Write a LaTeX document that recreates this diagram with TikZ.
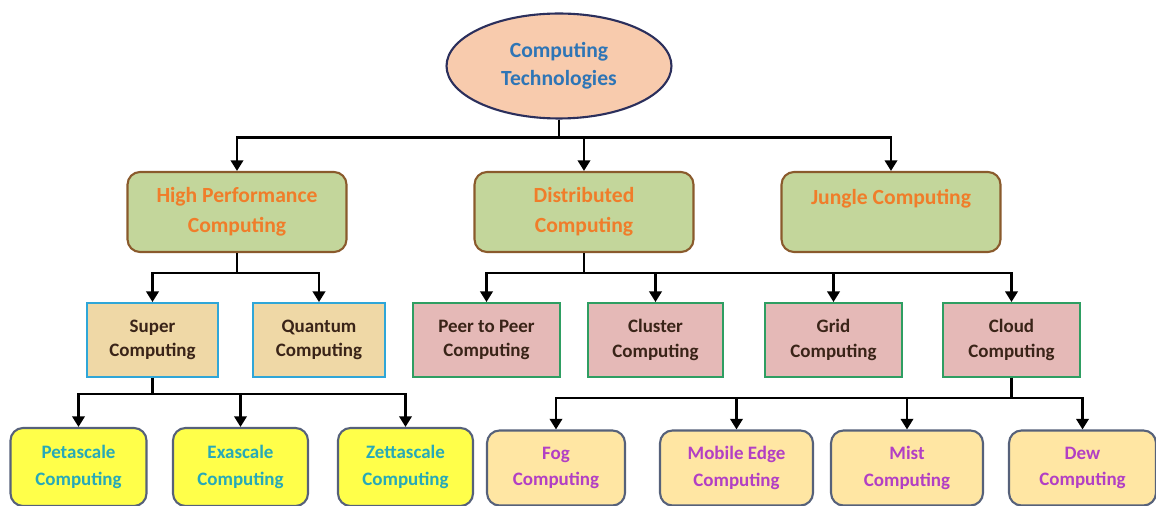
\documentclass[tikz,border=0pt]{standalone}
\usepackage{fontspec}
\setmainfont{Carlito}
\usetikzlibrary{shapes.geometric,arrows.meta}

\definecolor{rootfill}{HTML}{F8CBAD}
\definecolor{rootline}{HTML}{2B2F5C}
\definecolor{roottext}{HTML}{2E75B6}
\definecolor{topfill}{HTML}{C3D69B}
\definecolor{topline}{HTML}{8A5A2C}
\definecolor{toptext}{HTML}{F07D2A}
\definecolor{hpcfill}{HTML}{EFD8A6}
\definecolor{hpcline}{HTML}{2FA6D8}
\definecolor{darktext}{HTML}{3A2418}
\definecolor{distfill}{HTML}{E5B9B7}
\definecolor{distline}{HTML}{2E9E62}
\definecolor{scalefill}{HTML}{FFFF4A}
\definecolor{leafline}{HTML}{56617A}
\definecolor{scaletext}{HTML}{27A9B8}
\definecolor{cloudfill}{HTML}{FFE6A3}
\definecolor{cloudtext}{HTML}{B23FC4}

\begin{document}
\begin{tikzpicture}[x=0.02cm,y=-0.02cm,
    arr/.style={line width=1.4pt,-{Triangle[width=7pt,length=6pt]}},
    rootnode/.style={ellipse,draw=rootline,line width=1.2pt,fill=rootfill,text=roottext,
        minimum width=4.5cm,minimum height=2.1cm,inner sep=0pt,align=center,
        font=\fontsize{12.3}{16}\selectfont\bfseries},
    topnode/.style={rectangle,rounded corners=0.25cm,draw=topline,line width=1.2pt,fill=topfill,
        text=toptext,minimum width=4.38cm,minimum height=1.6cm,align=center,
        font=\fontsize{12.3}{17}\selectfont\bfseries},
    hpcnode/.style={rectangle,draw=hpcline,line width=1.1pt,fill=hpcfill,text=darktext,
        minimum width=2.63cm,minimum height=1.48cm,align=center,
        font=\fontsize{10.8}{14}\selectfont\bfseries},
    distnode/.style={hpcnode,draw=distline,fill=distfill},
    scalenode/.style={rectangle,rounded corners=0.25cm,draw=leafline,line width=1.2pt,
        fill=scalefill,text=scaletext,minimum width=2.72cm,minimum height=1.56cm,align=center,
        font=\fontsize{10.8}{15}\selectfont\bfseries},
    cloudnode/.style={scalenode,fill=cloudfill,text=cloudtext,minimum height=1.5cm}]
\useasboundingbox (0,0) rectangle (1156,506);

\node[rootnode] (root) at (559,66) {Computing\\Technologies};

\node[topnode] (hpc) at (237,212) {High Performance\\Computing};
\node[topnode] (dist) at (584,212) {Distributed\\Computing};
\node[topnode] (jungle) at (891,212) {Jungle Computing\\~};

\node[hpcnode] (super) at (152.5,340) {Super\\Computing};
\node[hpcnode] (quantum) at (319,340) {Quantum\\Computing};

\node[distnode,minimum width=2.94cm] (peer) at (486.5,340) {Peer to Peer\\Computing};
\node[distnode,minimum width=2.7cm] (cluster) at (655.5,340) {Cluster\\Computing};
\node[distnode,minimum width=2.74cm] (grid) at (833.5,340) {Grid\\Computing};
\node[distnode,minimum width=2.74cm] (cloud) at (1011.5,340) {Cloud\\Computing};

\node[scalenode] (peta) at (78.5,467) {Petascale\\Computing};
\node[scalenode,minimum width=2.7cm] (exa) at (240.5,467) {Exascale\\Computing};
\node[scalenode,minimum width=2.7cm] (zetta) at (405.5,467) {Zettascale\\Computing};

\node[cloudnode,minimum width=2.76cm] (fog) at (556,468) {Fog\\Computing};
\node[cloudnode,minimum width=3.06cm] (mobile) at (736.5,468) {Mobile Edge\\Computing};
\node[cloudnode,minimum width=3.04cm] (mist) at (907,468) {Mist\\Computing};
\node[cloudnode,minimum width=2.94cm] (dew) at (1082.5,468) {Dew\\Computing};

\foreach \kid in {hpc,dist,jungle}
    \draw[arr] (root.south) -- ++(0,18) -| (\kid.north);
\foreach \kid in {super,quantum}
    \draw[arr] (hpc.south) -- ++(0,20) -| (\kid.north);
\foreach \kid in {peer,cluster,grid,cloud}
    \draw[arr] (dist.south) -- ++(0,20) -| (\kid.north);
\foreach \kid in {peta,exa,zetta}
    \draw[arr] (super.south) -- ++(0,16) -| (\kid.north);
\foreach \kid in {fog,mobile,mist,dew}
    \draw[arr] (cloud.south) -- ++(0,20) -| (\kid.north);
\end{tikzpicture}
\end{document}
